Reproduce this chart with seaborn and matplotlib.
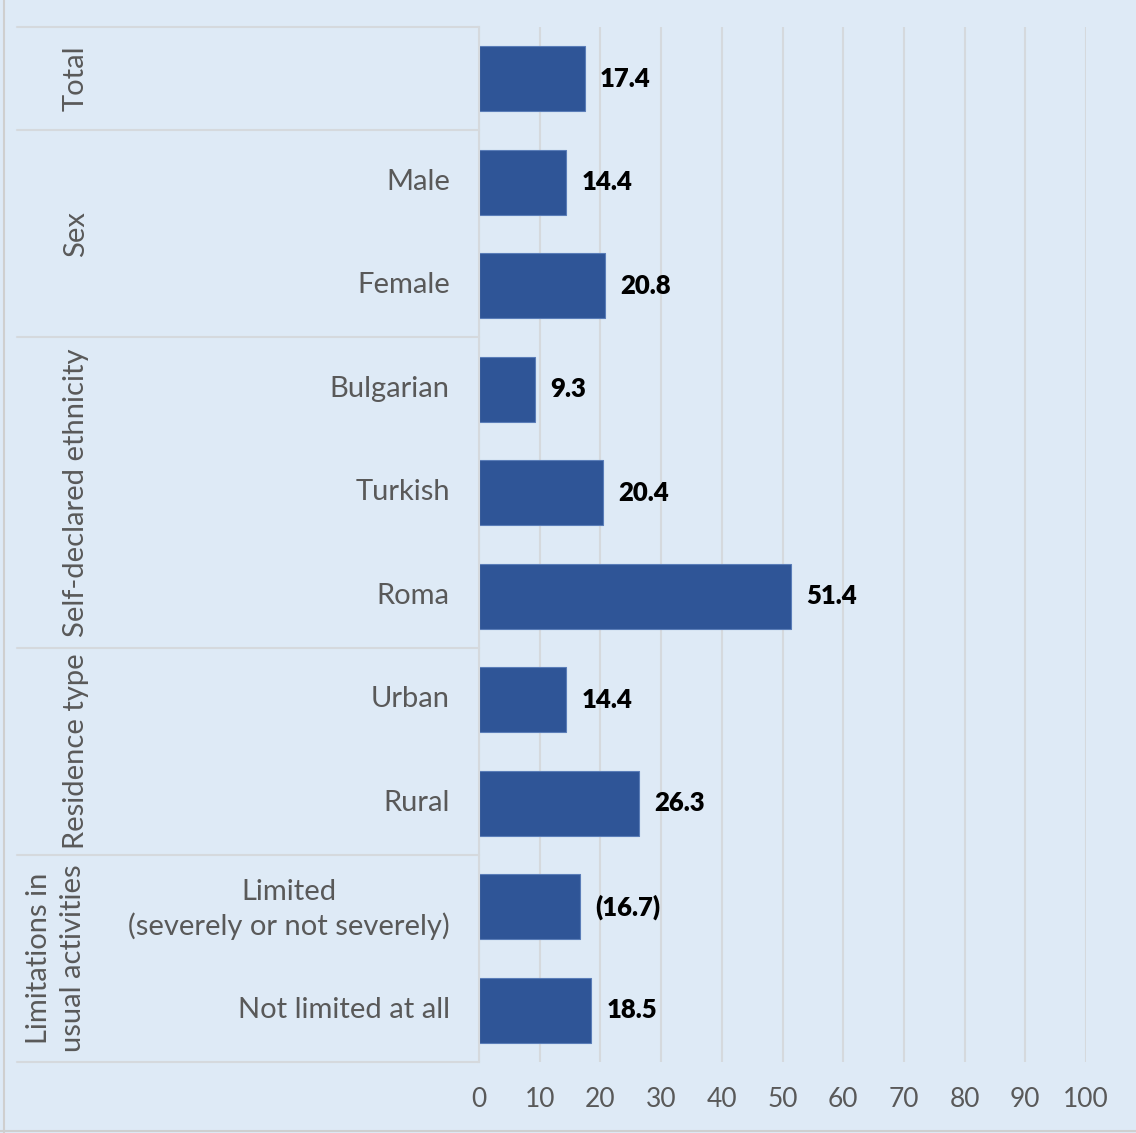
import matplotlib
matplotlib.use("Agg")
import matplotlib.pyplot as plt
import seaborn as sns
import pandas as pd
from matplotlib.transforms import blended_transform_factory, ScaledTranslation
from matplotlib.lines import Line2D

# ---- data ----
categories = ["Total", "Male", "Female", "Bulgarian", "Turkish", "Roma",
              "Urban", "Rural", "Limited\n(severely or not severely)", "Not limited at all"]
tick_labels = ["", "Male", "Female", "Bulgarian", "Turkish", "Roma",
               "Urban", "Rural", "Limited\n(severely or not severely)", "Not limited at all"]
values = [17.4, 14.4, 20.8, 9.3, 20.4, 51.4, 14.4, 26.3, 16.7, 18.5]
value_labels = ["17.4", "14.4", "20.8", "9.3", "20.4", "51.4", "14.4", "26.3", "(16.7)", "18.5"]
groups = ["Total", "Sex", "Self-declared ethnicity", "Residence type",
          "Limitations in\nusual activities"]
group_sizes = [1, 2, 3, 2, 2]
x_ticks = [0, 10, 20, 30, 40, 50, 60, 70, 80, 90, 100]

# ---- style ----
bg = "#DEEAF6"
bar_color = "#2F5597"
grid_color = "#D5D9DD"
text_gray = "#595959"

sns.set_theme(style="white")
plt.rcParams['font.family'] = ['Lato', 'DejaVu Sans']

W_PX, H_PX = 1136, 1133
fig = plt.figure(figsize=(W_PX / 100, H_PX / 100), dpi=100, facecolor=bg)
L = 479 / W_PX
R = 1086 / W_PX
T = 1 - 27 / H_PX
B = 1 - 1062 / H_PX
ax = fig.add_axes([L, B, R - L, T - B])
ax.set_facecolor(bg)

df = pd.DataFrame({"category": categories, "value": values})
sns.barplot(data=df, x="value", y="category", order=categories, color=bar_color,
            saturation=1, width=0.63, edgecolor="#5A7DB8", linewidth=0.8, ax=ax)

ax.set_xlim(0, 100)
ax.set_ylim(len(categories) - 0.5, -0.5)
ax.set_xticks(x_ticks)
ax.set_xticklabels([str(t) for t in x_ticks])
ax.set_yticks(range(len(categories)))
ax.set_yticklabels(tick_labels)
ax.set_xlabel("")
ax.set_ylabel("")
ax.xaxis.grid(True, color=grid_color, lw=1.5)
ax.yaxis.grid(False)
ax.set_axisbelow(True)
for s in ["top", "right", "bottom"]:
    ax.spines[s].set_visible(False)
ax.spines["left"].set_color(grid_color)
ax.spines["left"].set_linewidth(1.5)
ax.tick_params(axis="x", length=0, pad=18, labelsize=19, labelcolor=text_gray)
ax.tick_params(axis="y", length=0, pad=21, labelsize=21, labelcolor=text_gray)
shift = ScaledTranslation(0, 3 / 100, fig.dpi_scale_trans)
for lab in ax.get_yticklabels():
    lab.set_multialignment("center")
    lab.set_linespacing(1.3)
    lab.set_transform(lab.get_transform() + shift)

for i, (v, lab) in enumerate(zip(values, value_labels)):
    ax.annotate(lab, xy=(v, i), xytext=(11, 0), textcoords="offset points",
                ha="left", va="center", fontsize=18.5, fontweight="heavy", color="black")

# ---- left grouping table ----
trans = blended_transform_factory(fig.transFigure, ax.transData)
x0 = 17 / W_PX
start = -0.5
bounds = [start]
for g, n in zip(groups, group_sizes):
    center = start + n / 2
    xpos = (56 if "\n" in g else 76) / W_PX
    ax.text(xpos, center, g, transform=trans, rotation=90, ha="center", va="center",
            fontsize=21, color=text_gray, linespacing=1.35, clip_on=False)
    start += n
    bounds.append(start)
for b in bounds:
    ax.add_line(Line2D([x0, L], [b, b], transform=trans, color=grid_color, lw=1.5,
                       clip_on=False))

# outer frame (left and bottom)
fig.add_artist(Line2D([4 / W_PX, 4 / W_PX], [0, 1], transform=fig.transFigure,
                      color="#CFCFCF", lw=1.5))
fig.add_artist(Line2D([0, 1], [2 / H_PX, 2 / H_PX], transform=fig.transFigure,
                      color="#CFCFCF", lw=1.5))

fig.savefig("out.png", dpi=100, facecolor=bg)
